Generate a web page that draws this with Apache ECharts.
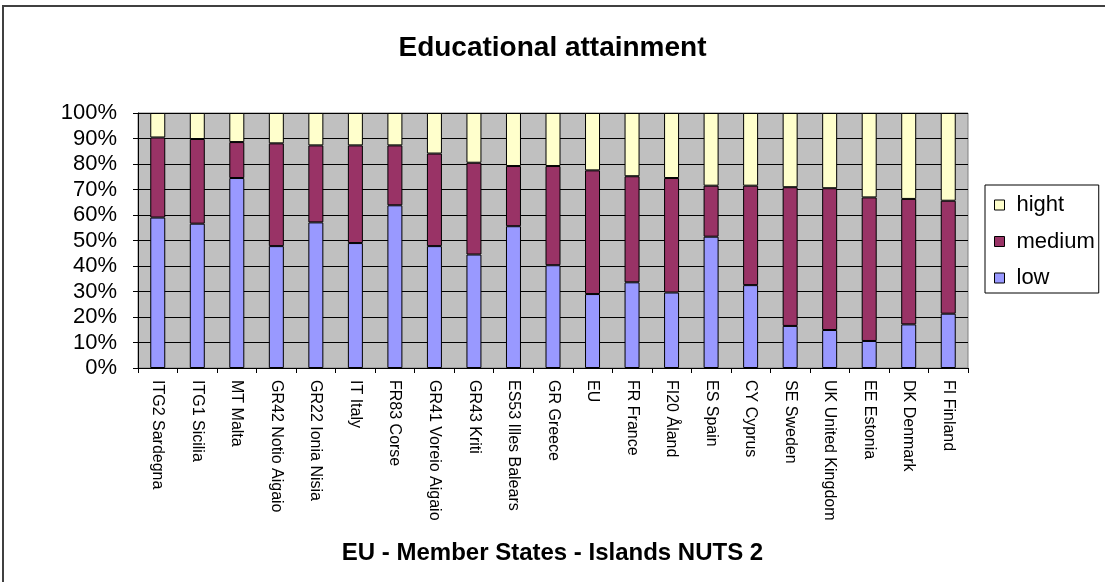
<!DOCTYPE html>
<html>
<head>
<meta charset="utf-8">
<script src="https://cdn.jsdelivr.net/npm/echarts@6/dist/echarts.min.js"></script>
<style>html,body{margin:0;padding:0;background:#fff;}#c{width:1105px;height:582px;}</style>
</head>
<body>
<div id="c"></div>
<script>
var categories = ["ITG2 Sardegna","ITG1 Sicilia","MT Malta","GR42 Notio Aigaio","GR22 Ionia Nisia","IT Italy","FR83 Corse","GR41 Voreio Aigaio","GR43 Kriti","ES53 Illes Balears","GR Greece","EU","FR France","FI20 Åland","ES Spain","CY Cyprus","SE Sweden","UK United Kingdom","EE Estonia","DK Denmark","FI Finland"];
var lowValues = [59.0,56.6,74.5,47.8,57.1,49.0,63.8,47.8,44.5,55.6,40.3,29.0,33.6,29.6,51.5,32.5,16.5,14.9,10.6,17.1,21.3];
var mediumValues = [31.4,33.2,14.1,40.3,30.2,38.3,23.5,36.3,36.0,23.6,38.9,48.5,41.6,44.9,20.0,39.0,54.4,55.6,56.3,49.2,44.3];
var highValues = [9.6,10.2,11.4,11.9,12.7,12.7,12.7,15.9,19.5,20.8,20.8,22.5,24.8,25.5,28.5,28.5,29.1,29.5,33.1,33.7,34.4];
var seriesNames = ["low","medium","hight"];
var legendOrder = ["hight","medium","low"];
var titleText = "Educational attainment";
var xAxisTitle = "EU - Member States - Islands NUTS 2";

var FONT = "'Liberation Sans', Arial, sans-serif";
var chart = echarts.init(document.getElementById('c'), null, {renderer: 'canvas'});
function barSeries(name, data, color) {
  return {
    name: name, type: 'bar', stack: 'total', data: data, barWidth: 15,
    itemStyle: {color: color, borderColor: '#000', borderWidth: 1},
    emphasis: {disabled: true}, animation: false
  };
}
chart.setOption({
  animation: false,
  backgroundColor: '#fff',
  graphic: [{
    type: 'rect', shape: {x: 3, y: 6, width: 1200, height: 700},
    style: {fill: 'none', stroke: '#404040', lineWidth: 2}, silent: true, z: -10
  }],
  title: [{
    text: titleText, left: 'center', top: 29,
    textStyle: {fontFamily: FONT, fontSize: 28, fontWeight: 'bold', color: '#000', lineHeight: 28}
  }, {
    text: xAxisTitle, left: 'center', top: 536,
    textStyle: {fontFamily: FONT, fontSize: 24, fontWeight: 'bold', color: '#000', lineHeight: 24}
  }],
  legend: {
    data: legendOrder, orient: 'vertical', left: 985, top: 185,
    padding: [9, 4, 4, 9], itemGap: 14.5, itemWidth: 10, itemHeight: 10,
    backgroundColor: '#fff', borderColor: '#000', borderWidth: 1,
    icon: 'rect',
    itemStyle: {borderColor: '#000', borderWidth: 1},
    textStyle: {fontFamily: FONT, fontSize: 22, color: '#000', lineHeight: 22, padding: [0, 0, 0, 7]},
    selectedMode: false
  },
  grid: {
    left: 138, right: 137, top: 113, bottom: 214, containLabel: false,
    show: true, backgroundColor: '#c0c0c0', borderColor: '#808080', borderWidth: 1
  },
  xAxis: {
    type: 'category', data: categories,
    axisLine: {show: true, lineStyle: {color: '#000', width: 1}},
    axisTick: {show: true, alignWithLabel: false, length: 5, lineStyle: {color: '#000'}},
    axisLabel: {rotate: -90, interval: 0, margin: 12, fontFamily: FONT, fontSize: 16, color: '#000'},
    splitLine: {show: false}
  },
  yAxis: {
    type: 'value', min: 0, max: 100, interval: 10,
    axisLine: {show: true, lineStyle: {color: '#000', width: 1}},
    axisTick: {show: true, length: 5, lineStyle: {color: '#000'}},
    axisLabel: {formatter: '{value}%', margin: 21, fontFamily: FONT, fontSize: 22, color: '#000'},
    splitLine: {show: true, lineStyle: {color: '#000', width: 1}}
  },
  series: [
    barSeries(seriesNames[0], lowValues, '#9999ff'),
    barSeries(seriesNames[1], mediumValues, '#993366'),
    barSeries(seriesNames[2], highValues, '#ffffcc')
  ]
});
</script>
</body>
</html>
